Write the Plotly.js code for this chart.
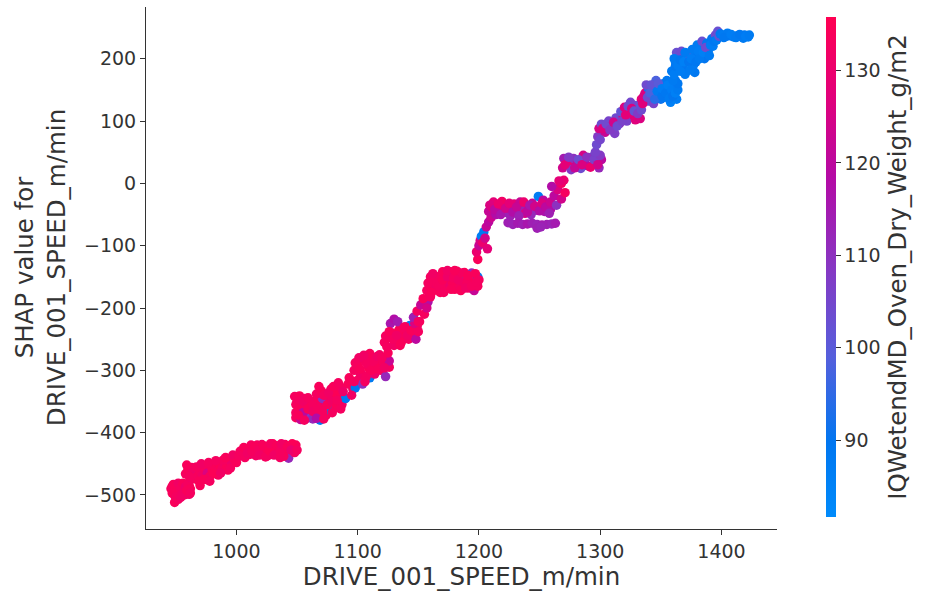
<!DOCTYPE html>
<html>
<head>
<meta charset="utf-8">
<script src="https://cdn.plot.ly/plotly-3.0.1.min.js"></script>
<style>html,body{margin:0;padding:0;background:#fff;}</style>
</head>
<body>
<div id="chart" style="width:929px;height:604px;"></div>
<script>
// Segment data: DRIVE_001_SPEED (x), SHAP value (y), IQWetendMD_Oven_Dry_Weight (colour)
var sA_x = [947,949,951,953,955,957,959,961,948,950,952,954,956,958,960,949,953,957,961,950,955,959,949,952,946,948,952,954,956,958,960,962,951,955,959,962,947,950,954];
var sA_y = [-486,-484,-488,-482,-486,-484,-489,-485,-494,-496,-493,-497,-495,-492,-496,-501,-502,-500,-499,-490,-491,-489,-512,-507,-490,-483,-481,-489,-481,-487,-482,-490,-498,-499,-493,-497,-497,-503,-504];
var sA_c = [133,134,132,133,135,133,131,134,133,132,134,133,126,133,134,132,133,135,131,134,133,132,134,133,133,134,132,133,134,131,133,134,133,132,134,133,134,133,132];

var sB_x = [958,960,962,964,966,968,970,972,970,974,976,978,980,982,984,986,988,990,992,994,996,998,965,975,985,993,999,963,979,989,959,967,971,973,977,981,983,987,991,995,997,969,961,978,1000];
var sB_y = [-466,-460,-472,-465,-461,-470,-463,-468,-485,-458,-465,-470,-460,-455,-462,-452,-458,-448,-454,-445,-450,-442,-474,-475,-468,-460,-440,-456,-452,-444,-452,-455,-450,-475,-448,-466,-445,-465,-440,-457,-436,-478,-470,-478,-448];
var sB_c = [133,134,132,133,131,134,133,132,134,133,126,133,134,132,133,135,133,132,134,133,131,134,133,132,133,134,133,132,134,133,134,133,132,134,133,135,133,132,134,133,132,134,133,133,134];

var sC_x = [1002,1005,1008,1011,1014,1017,1020,1023,1026,1029,1032,1035,1038,1041,1044,1047,1049,1012,1021,1030,1040,1046,1007,1016,1025,1034,1043,1048,1039,1003,1006,1009,1013,1015,1018,1019,1022,1024,1027,1028,1031,1033,1036,1037,1042,1045,1050,1036];
var sC_y = [-438,-432,-426,-435,-428,-420,-432,-426,-437,-422,-430,-436,-420,-428,-434,-425,-420,-420,-419,-418,-419,-418,-440,-437,-433,-427,-441,-432,-438,-430,-424,-433,-430,-422,-428,-436,-421,-439,-429,-418,-436,-421,-429,-418,-422,-428,-428,-440];
var sC_c = [133,134,132,133,135,133,134,132,133,134,124,133,132,134,133,131,134,133,132,134,133,135,133,132,134,133,112,133,134,133,134,132,133,134,133,132,134,133,135,133,132,134,133,132,134,130,133,133];

var sD_x = [1048,1052,1056,1049,1053,1057,1061,1065,1069,1073,1049,1053,1057,1061,1065,1069,1073,1077,1081,1085,1049,1053,1058,1063,1068,1069,1074,1078,1082,1087,1060,1075,1080,1084,1089,1050,1051,1055,1055,1059,1059,1063,1063,1067,1067,1071,1071,1075,1079,1079,1083,1086,1066,1072,1051,1056];
var sD_y = [-342,-341,-345,-355,-360,-356,-352,-348,-355,-350,-368,-372,-366,-370,-364,-368,-362,-358,-352,-348,-376,-379,-377,-378,-373,-380,-372,-365,-360,-355,-360,-345,-340,-342,-346,-350,-363,-350,-368,-344,-362,-356,-366,-344,-360,-345,-366,-355,-350,-368,-356,-362,-377,-378,-372,-380];
var sD_c = [133,134,132,133,135,133,134,132,133,128,133,134,132,133,124,133,134,132,133,134,133,122,108,112,133,88,134,89,133,132,134,133,132,134,133,133,134,132,120,133,134,133,132,134,133,110,133,134,132,133,134,133,118,133,134,133];

var sE_x = [1066,1070,1074,1078,1082,1086,1090,1092,1096,1098,1100,1104,1108,1110,1083,1095,1068,1072,1076,1080,1084,1088,1093,1097,1102,1106];
var sE_y = [-338,-333,-340,-330,-336,-327,-345,-322,-330,-328,-316,-322,-312,-312,-348,-340,-326,-340,-336,-326,-320,-334,-312,-318,-305,-318];
var sE_c = [133,134,132,133,135,133,88,134,133,89,133,110,134,88,133,132,134,133,132,134,133,131,134,133,132,133];

var sF_x = [1097,1100,1103,1106,1109,1112,1115,1118,1121,1124,1126,1101,1110,1119,1114,1123,1107,1126,1098,1102,1105,1108,1111,1113,1116,1117,1120,1122,1125];
var sF_y = [-300,-292,-305,-285,-296,-280,-290,-275,-288,-280,-295,-280,-273,-300,-306,-310,-310,-285,-288,-298,-276,-290,-300,-286,-278,-298,-280,-296,-272];
var sF_c = [133,134,132,133,135,133,134,132,133,134,133,132,134,133,131,112,133,122,133,134,132,133,134,133,132,134,133,132,134];

var sG_x = [1122,1125,1128,1131,1134,1137,1140,1143,1146,1149,1151,1124,1130,1136,1142,1127,1130,1133,1139,1148,1123,1126,1129,1132,1135,1138,1141,1144,1147,1150];
var sG_y = [-255,-248,-240,-252,-235,-245,-238,-228,-242,-230,-222,-262,-260,-255,-250,-225,-218,-222,-230,-250,-245,-238,-250,-244,-260,-232,-244,-236,-225,-238];
var sG_c = [133,134,132,133,135,133,134,87,133,132,134,133,132,134,133,116,118,115,133,120,133,134,133,132,134,133,132,134,126,133];

var sH_x = [1146,1149,1152,1155,1158,1150,1154,1157,1160];
var sH_y = [-215,-205,-195,-210,-190,-222,-185,-200,-182];
var sH_c = [114,133,122,133,117,133,134,125,133];

var sI_x = [1157,1160,1163,1166,1169,1172,1175,1178,1181,1184,1187,1190,1193,1196,1199,1160,1164,1168,1172,1176,1180,1184,1188,1192,1196,1199,1170,1176,1182,1188,1194,1165,1178,1190,1158,1161,1162,1167,1170,1171,1174,1177,1179,1183,1185,1186,1189,1191,1194,1197,1198,1174,1180,1200];
var sI_y = [-172,-165,-158,-150,-162,-145,-155,-148,-160,-150,-149,-155,-148,-158,-150,-150,-170,-175,-168,-163,-170,-165,-162,-168,-172,-165,-142,-142,-141,-143,-144,-160,-158,-160,-160,-175,-145,-165,-155,-175,-150,-170,-152,-155,-172,-144,-168,-148,-165,-145,-158,-140,-140,-155];
var sI_c = [133,134,132,133,135,133,134,132,133,134,87,133,132,134,90,133,132,134,133,131,134,133,132,134,122,133,134,132,133,135,112,133,134,133,133,134,132,133,134,133,131,134,133,132,134,133,132,134,133,134,133,132,134,133];

var sJ_x = [1199,1198,1200,1201,1202,1203,1204,1206,1205,1208,1210,1207];
var sJ_y = [-122,-110,-100,-92,-85,-95,-78,-70,-88,-62,-55,-105];
var sJ_c = [134,130,122,125,87,130,88,122,124,120,123,128];

var sK_x = [1208,1211,1214,1217,1220,1223,1226,1229,1232,1235,1238,1241,1244,1247,1249,1251,1254,1257,1212,1219,1226,1234,1243,1253,1259,1209,1213,1216,1218,1222,1225,1228,1231,1233,1237,1240,1242,1246,1250,1252,1255,1258];
var sK_y = [-45,-38,-50,-42,-35,-47,-40,-33,-45,-38,-48,-40,-32,-43,-21,-36,-45,-38,-30,-29,-52,-30,-50,-27,-42,-35,-42,-33,-50,-40,-32,-46,-38,-52,-30,-46,-35,-37,-44,-32,-38,-48];
var sK_c = [122,130,118,124,132,112,122,128,120,114,126,118,122,110,87,124,116,120,128,132,114,122,112,120,118,126,120,130,116,124,128,118,122,114,130,120,116,124,118,126,120,114];

var sL_x = [1224,1228,1232,1236,1240,1244,1248,1252,1256,1260,1263,1248,1251];
var sL_y = [-63,-66,-64,-66,-65,-64,-66,-67,-66,-65,-64,-72,-70];
var sL_c = [114,113,115,114,116,114,113,115,114,113,115,114,113];

var sM_x = [1259,1262,1265,1268,1270,1264,1268,1271,1260,1266];
var sM_y = [-30,-20,-10,0,5,-35,-25,-15,-5,4];
var sM_c = [123,120,126,132,130,110,124,133,118,128];

var sN_x = [1269,1272,1275,1278,1281,1284,1287,1290,1293,1296,1299,1301,1276,1286,1297,1270,1271,1274,1279,1282,1285,1289,1292,1295,1298,1300];
var sN_y = [25,35,28,40,30,24,36,28,42,32,25,38,22,45,44,40,30,42,25,38,30,42,26,38,30,45];
var sN_c = [124,105,128,110,122,104,126,118,106,130,112,120,108,125,104,115,128,108,122,104,126,110,130,106,124,108];

var sO_x = [1296,1297,1298,1299,1301,1304,1307,1310,1313,1316,1319,1322,1317,1320,1324,1327,1330,1333,1336,1325,1329,1312,1333,1300,1302,1305,1308,1311,1314,1318,1321,1323,1326,1328,1331,1334];
var sO_y = [50,62,75,88,95,82,100,90,105,96,108,100,115,122,118,110,125,120,130,130,102,80,104,70,88,95,86,98,92,100,110,124,120,116,112,118];
var sO_c = [106,104,108,125,104,122,106,126,104,110,128,106,102,126,104,128,103,100,128,105,127,107,126,105,126,104,108,124,104,106,128,104,126,102,108,104];

var sP_x = [1334,1337,1340,1343,1346,1349,1352,1355,1358,1361,1363,1340,1346,1355,1362,1338,1350,1358,1335,1344,1353,1336,1339,1341,1342,1345,1347,1348,1351,1351,1354,1356,1357,1359,1360,1362,1364,1364];
var sP_y = [135,145,150,140,155,145,160,150,142,155,135,132,165,165,165,158,135,130,128,128,138,140,138,145,158,135,148,160,140,152,145,158,136,150,140,145,150,160];
var sP_c = [128,126,92,100,88,95,87,90,86,88,87,102,98,89,90,104,91,86,127,106,88,126,104,98,102,94,88,100,90,87,89,86,88,87,90,86,88,89];

var sQ_x = [1359,1362,1365,1368,1371,1374,1377,1380,1383,1386,1389,1363,1367,1372,1380,1384,1388,1392,1395,1397,1393,1370,1378,1360,1361,1362,1361,1364,1366,1369,1370,1373,1375,1376,1379,1381,1382,1385,1387,1390,1391,1394,1396,1398,1399,1366,1374];
var sQ_y = [180,195,205,185,200,210,190,205,215,200,212,210,212,208,222,228,225,232,238,244,220,175,178,165,175,188,200,190,198,195,210,195,200,215,195,212,200,210,218,205,222,228,230,236,240,180,182];
var sQ_c = [88,87,89,90,86,88,87,89,86,90,88,103,104,102,88,103,89,90,104,103,87,88,89,88,87,89,88,87,89,86,88,90,87,88,89,87,88,86,104,88,87,89,88,102,89,87,88];

var sR_x = [1401,1404,1407,1410,1413,1416,1419,1422,1405,1418,1402,1408,1412,1415,1420,1423];
var sR_y = [238,236,237,235,237,236,238,235,241,233,234,239,234,239,236,238];
var sR_c = [88,87,89,88,87,88,89,87,88,88,89,87,88,89,87,88];

var xTitle = "DRIVE_001_SPEED_m/min";
var yTitle = "SHAP value for<br>DRIVE_001_SPEED_m/min";
var cTitle = "IQWetendMD_Oven_Dry_Weight_g/m2";
var xTicks = [1000, 1100, 1200, 1300, 1400];
var yTicks = [-500, -400, -300, -200, -100, 0, 100, 200];
var cTicks = [90, 100, 110, 120, 130];

var speed = [].concat(sA_x,sB_x,sC_x,sD_x,sE_x,sF_x,sG_x,sH_x,sI_x,sJ_x,sK_x,sL_x,sM_x,sN_x,sO_x,sP_x,sQ_x,sR_x);
var shap = [].concat(sA_y,sB_y,sC_y,sD_y,sE_y,sF_y,sG_y,sH_y,sI_y,sJ_y,sK_y,sL_y,sM_y,sN_y,sO_y,sP_y,sQ_y,sR_y);
var weight = [].concat(sA_c,sB_c,sC_c,sD_c,sE_c,sF_c,sG_c,sH_c,sI_c,sJ_c,sK_c,sL_c,sM_c,sN_c,sO_c,sP_c,sQ_c,sR_c);

var FONT = "DejaVu Sans, Liberation Sans, sans-serif";
var TXT = "#333333";

var redBlue = [
  [0.0, "rgb(0,139,251)"],
  [0.15, "rgb(0,118,240)"],
  [0.32, "rgb(85,95,220)"],
  [0.5, "rgb(135,55,195)"],
  [0.68, "rgb(180,10,165)"],
  [0.85, "rgb(228,0,120)"],
  [1.0, "rgb(255,0,82)"]
];

var trace = {
  type: "scatter",
  mode: "markers",
  x: speed,
  y: shap,
  marker: {
    size: 9.5,
    color: weight,
    colorscale: redBlue,
    cmin: 81.7,
    cmax: 135.8,
    line: {width: 0},
    colorbar: {
      x: 1.062, xanchor: "left",
      y: 0.502, yanchor: "middle",
      len: 520, lenmode: "pixels",
      thickness: 10, thicknessmode: "pixels",
      outlinewidth: 0,
      ticks: "outside", ticklen: 5, tickcolor: TXT, tickwidth: 1,
      tickvals: cTicks,
      tickfont: {family: FONT, size: 19, color: TXT},
      title: {text: cTitle, side: "right", font: {family: FONT, size: 24.5, color: TXT}}
    }
  },
  hoverinfo: "skip",
  showlegend: false
};

var axisBase = {
  showline: true, linecolor: TXT, linewidth: 1,
  ticks: "outside", ticklen: 5, tickcolor: TXT, tickwidth: 1,
  showgrid: false, zeroline: false,
  tickfont: {family: FONT, size: 19, color: TXT}
};

var layout = {
  width: 929, height: 604,
  margin: {l: 146, r: 139, t: 7, b: 75},
  paper_bgcolor: "#fff", plot_bgcolor: "#fff",
  font: {family: FONT, color: TXT},
  xaxis: Object.assign({}, axisBase, {
    range: [925.4, 1445.8], tickvals: xTicks, automargin: false,
    title: {text: xTitle, font: {family: FONT, size: 24.5, color: TXT}, standoff: 6}
  }),
  yaxis: Object.assign({}, axisBase, {
    range: [-554.6, 283], tickvals: yTicks, automargin: false
  }),
  annotations: [{
    text: yTitle, xref: "paper", yref: "paper",
    x: -0.1677, y: 0.5, xanchor: "center", yanchor: "middle",
    textangle: -90, showarrow: false,
    font: {family: FONT, size: 24.5, color: TXT}
  }]
};

Plotly.newPlot("chart", [trace], layout, {displayModeBar: false, staticPlot: true});
</script>
</body>
</html>
